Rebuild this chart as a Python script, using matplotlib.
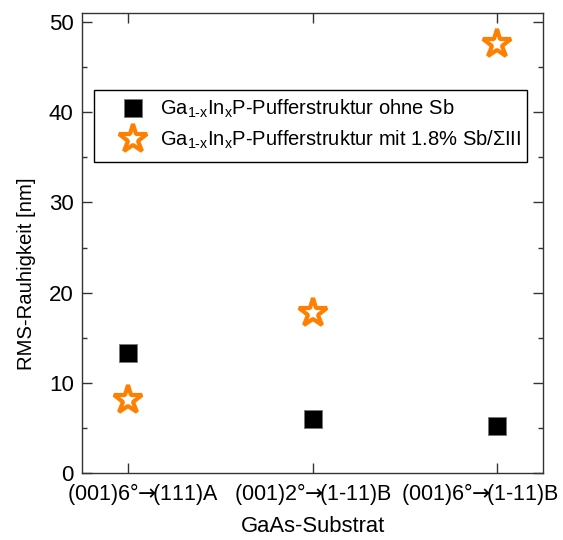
import matplotlib
matplotlib.use("Agg")
import matplotlib.pyplot as plt
from matplotlib.ticker import MultipleLocator
from matplotlib.patches import Rectangle
from matplotlib.transforms import ScaledTranslation

plt.rcParams['font.family'] = ['Liberation Sans', 'DejaVu Sans']
plt.rcParams['mathtext.fontset'] = 'custom'
plt.rcParams['mathtext.rm'] = 'Liberation Sans'
plt.rcParams['mathtext.sf'] = 'DejaVu Sans'
plt.rcParams['mathtext.default'] = 'regular'

arrow = r"$\mathsf{→}\!$"
substrates = ["(001)6°" + arrow + "(111)A",
              "(001)2°" + arrow + "(1-11)B",
              "(001)6°" + arrow + "(1-11)B"]
rms_ohne_sb = [13.3, 6.0, 5.2]
rms_mit_sb = [8.1, 17.7, 47.6]
label_ohne = r"Ga$_{\text{1-x}}$In$_{\text{x}}$P-Pufferstruktur ohne Sb"
label_mit = r"Ga$_{\text{1-x}}$In$_{\text{x}}$P-Pufferstruktur mit 1.8% Sb/ΣIII"

fig = plt.figure(figsize=(5.63, 5.40), dpi=100)
ax = fig.add_axes([0.1456, 0.124, 0.819, 0.852])

x = list(range(len(substrates)))
ax.plot(x, rms_ohne_sb, linestyle='none', marker='s', markersize=13.5,
        markerfacecolor='black', markeredgecolor='#777777', markeredgewidth=0.6,
        label=label_ohne)
ax.plot(x, rms_mit_sb, linestyle='none', marker='*', markersize=21,
        markerfacecolor='white', markeredgecolor='#FF8000', markeredgewidth=3.0,
        label=label_mit)

ax.set_xlim(-0.25, 2.25)
ax.set_ylim(0, 51)
ax.set_xticks(x)
ax.set_xticklabels(substrates)
ax.yaxis.set_major_locator(MultipleLocator(10))
ax.yaxis.set_minor_locator(MultipleLocator(5))
ax.tick_params(axis='both', which='both', direction='in', top=True, right=True,
               color='#333333')
ax.tick_params(axis='x', labelsize=15.5, pad=6)
ax.tick_params(axis='y', labelsize=16, pad=6)
ax.tick_params(axis='both', which='major', length=7, width=1)
ax.tick_params(axis='both', which='minor', length=3.5, width=1)
for s in ax.spines.values():
    s.set_color('#333333')
    s.set_linewidth(1)

# nudge the outer substrate labels inwards so they clear the corners
for lbl, dx in zip(ax.get_xticklabels(), [0.15, 0.0, -0.17]):
    lbl.set_transform(lbl.get_transform() + ScaledTranslation(dx, 0, fig.dpi_scale_trans))

ax.set_xlabel("GaAs-Substrat", fontsize=15.8, labelpad=6)
ax.set_ylabel("RMS-Rauhigkeit [nm]", fontsize=14.6)
ax.yaxis.set_label_coords(-0.100, 0.433)

# legend box drawn separately so the entries can sit freely inside it
ax.add_patch(Rectangle((0.026, 0.676), 0.939, 0.157, transform=ax.transAxes,
                       facecolor='white', edgecolor='black', linewidth=1,
                       zorder=4))
leg = ax.legend(loc='upper left', bbox_to_anchor=(0.078, 0.815), fontsize=14.5,
                frameon=False, borderpad=0, borderaxespad=0,
                handletextpad=0.6, labelspacing=0.42, handlelength=1.5)
leg.set_zorder(5)

fig.savefig("out.png", dpi=100)
